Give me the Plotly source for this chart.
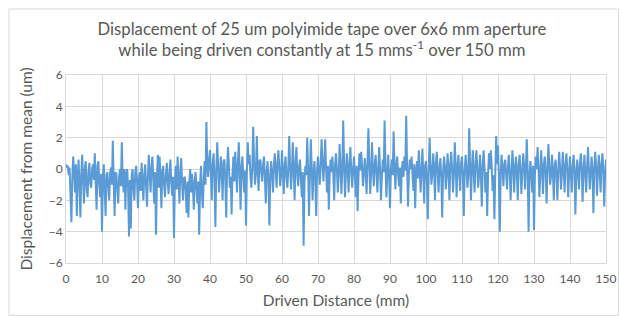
import plotly.graph_objects as go

displacement = [
    0.3, 0.1, 0.2, -0.4,   0.1, -1.2, -3.4, -0.6,   0.8, -0.2, -1.5, 0.3,
    -3.0, -0.5, 0.6, -1.1,  -3.1, -0.3, 0.9, -0.8,  -2.2, 0.1, 0.5, -1.3,
    -1.8, -0.2, 0.4, -0.9,  -1.2, 0.0, 0.3, -0.7,   1.0, -0.9, -2.6, 0.2,
    0.5, -1.0, -1.8, -0.3,  -4.0, -0.6, 0.3, -1.4,  -3.0, -0.4, -0.2, -1.2,
    -2.0, -0.3, 0.1, -1.0,  1.8, -0.8, -3.0, -0.2,  -0.3, -1.3, -2.2, -0.5,
    0.0, -1.1, 1.7, -0.6,   -1.5, 0.0, -2.6, -0.4,  0.0, -1.2, -4.3, -0.7,
    -3.8, -0.5, 0.0, -1.3,  -2.0, -0.2, 0.2, -0.9,  -2.5, -0.6, -0.2, -1.4,
    0.4, -0.9, -2.0, -0.3,  0.3, -1.1, -2.4, -0.5,  0.9, -0.4, -1.5, 0.1,
    0.8, -0.7, -2.2, -0.2,  -4.2, -0.8, 0.9, -1.2,  0.8, -0.6, -2.5, -0.1,
    0.2, -1.0, -1.8, -0.4,  0.4, -0.8, -1.6, -0.2,  0.6, -0.9, -1.7, -0.5,
    -4.4, -0.7, 0.2, -1.3,  0.8, -0.5, -2.2, -0.3,  0.7, -0.9, -2.0, -0.6,
    -0.5, -1.4, -2.8, -0.8, -3.1, -0.9, 0.0, -1.5,  -0.3, -1.2, -2.6, -0.7,
    -0.2, -1.3, -2.2, -0.8, -4.2, -1.0, 0.2, -1.6,  -2.5, -0.6, 0.5, -1.0,
    3.0, 0.2, -0.5, 0.6,    1.2, -0.3, -2.0, 0.4,   1.0, -0.6, -3.7, -0.1,
    1.7, 0.3, -1.5, -0.4,   0.8, -0.2, -2.0, 0.5,   0.6, -0.7, -3.1, 0.1,
    1.4, 0.2, -1.2, -0.5,   -2.9, -0.3, 0.8, -0.8,  1.1, 0.0, -1.5, 0.4,
    1.7, -0.4, -2.6, 0.2,   0.8, -0.6, -1.5, -0.1,  -3.6, -0.2, 1.7, 0.3,
    0.9, -0.5, -1.2, 0.1,   2.7, 0.4, -1.0, -0.3,   2.1, 0.0, -1.4, 0.5,
    0.6, -0.2, -0.8, 0.3,   0.8, -0.6, -2.2, -0.1,  0.5, -0.9, -3.6, -0.3,
    0.5, -0.4, -1.5, 0.2,   1.0, -0.1, -1.2, 0.4,   1.2, 0.1, -1.1, -0.4,
    1.2, -0.3, -1.6, 0.2,   0.8, -0.5, -1.2, 0.0,   2.1, 0.3, -1.3, -0.2,
    1.7, 0.0, -2.0, 0.4,    1.4, -0.3, -1.1, 0.1,   0.6, -0.6, -1.8, -0.2,
    -4.9, -0.8, 0.2, -0.4,  2.0, 0.1, -3.0, -0.5,   1.9, 0.2, -2.0, -0.3,
    0.5, -0.6, -3.0, 0.0,   0.8, -0.2, -1.0, 0.4,   1.9, 0.3, -0.8, 0.5,
    1.9, -0.1, -1.5, 0.2,   -2.6, -0.4, 0.6, -0.2,  0.8, -0.3, -2.0, 0.3,
    1.0, 0.0, -1.5, -0.4,   1.6, 0.2, -1.6, -0.1,   3.1, 0.4, -1.8, -0.3,
    1.0, 0.1, -1.5, 0.3,    1.4, -0.2, -1.2, 0.0,   0.8, -0.4, -1.8, 0.2,
    -2.7, -0.5, 1.0, -0.1,  1.1, 0.2, -1.1, -0.3,   0.7, -0.2, -1.6, 0.4,
    2.6, 0.3, -1.6, -0.2,   1.7, 0.0, -1.1, 0.3,    0.9, -0.3, -1.5, 0.1,
    1.4, -0.1, -2.0, -0.4,  0.6, -0.2, 3.1, 0.2,    -1.8, -0.3, 0.9, -0.5,
    -2.5, 0.0, 0.6, -0.4,   2.4, 0.2, -1.3, 0.3,    0.8, -0.3, -1.1, 0.1,
    -2.2, -0.2, 0.5, -0.5,  0.8, -0.1, 3.4, 0.2,    -2.4, -0.3, 0.6, 0.0,
    0.8, -0.4, -1.4, 0.3,   -2.5, -0.2, 0.5, -0.6,  1.2, 0.1, -1.5, -0.2,
    1.3, -0.3, -2.2, 0.2,   0.5, -0.6, -3.2, -0.1,  2.0, 0.3, -1.0, -0.3,
    1.0, 0.0, -2.0, 0.4,    1.1, -0.2, -1.5, 0.1,   0.7, -0.5, -3.1, -0.2,
    0.8, 0.2, -1.3, -0.4,   1.0, -0.1, -2.0, 0.3,   1.1, 0.0, -1.5, -0.3,
    1.7, 0.2, -1.8, 0.1,    0.9, -0.3, -1.4, 0.4,   0.8, -0.4, -3.0, -0.1,
    0.9, 0.1, -1.2, -0.4,   2.6, 0.3, -2.0, 0.0,    1.2, -0.2, -1.5, 0.3,
    1.2, 0.0, -1.2, -0.3,   0.9, -0.4, -2.4, 0.2,   1.2, 0.1, -1.5, -0.2,
    -3.0, -0.3, 1.0, 0.0,   1.2, 0.2, -1.4, -0.4,   -3.2, -0.2, 2.1, 0.3,
    1.5, -0.5, -4.0, -0.3,  0.9, 0.0, -1.1, 0.3,    0.6, -0.3, -1.3, 0.1,
    0.9, -0.1, -2.0, -0.4,  1.2, 0.2, -1.5, 0.0,    0.8, -0.3, -2.0, 0.3,
    0.9, 0.0, -1.6, -0.2,   1.0, 0.2, -1.3, 0.1,    1.9, -0.2, -4.0, -0.5,
    0.5, -0.3, -1.5, 0.2,   -3.9, -0.4, 0.8, 0.0,   1.4, 0.1, -1.8, -0.3,
    1.2, -0.1, -1.6, 0.3,   0.8, -0.3, -2.2, 0.1,   1.6, 0.2, -1.0, -0.4,
    0.9, -0.2, -2.0, 0.2,   0.6, -0.4, -2.0, 0.0,   1.1, 0.1, -1.3, -0.3,
    1.1, -0.1, -1.5, 0.3,   1.0, 0.0, -1.8, -0.2,   0.8, -0.3, -1.5, 0.2,
    0.9, 0.0, -2.9, -0.4,   0.6, -0.2, -1.3, 0.3,   1.0, 0.1, -2.1, -0.1,
    0.9, -0.3, -1.5, 0.2,   1.4, 0.0, -1.3, -0.3,   0.8, -0.2, -2.8, 0.1,
    1.1, 0.2, -1.7, -0.2,   0.9, -0.1, -1.5, 0.3,   1.0, 0.0, -2.4, -0.3,
    0.6,
]
step_mm = 0.25
distance = [i * step_mm for i in range(len(displacement))]

x_ticks = list(range(0, 151, 10))
y_ticks = list(range(-6, 7, 2))

title_text = ("Displacement of 25 um polyimide tape over 6x6 mm aperture<br>"
              "while being driven constantly at 15 mms<sup>-1</sup> over 150 mm")

fig = go.Figure()
fig.add_trace(go.Scatter(
    x=distance, y=displacement, mode="lines",
    line=dict(color="#5B9BD5", width=2.0),
    showlegend=False,
))

FONT = "Lato, Carlito, Calibri, sans-serif"
grid = "#D9D9D9"
fig.update_layout(
    width=619, height=316,
    margin=dict(l=66, r=13, t=75, b=53, autoexpand=False),
    paper_bgcolor="white", plot_bgcolor="white",
    font=dict(family=FONT, color="#595959"),
    title=dict(text=title_text, x=0.52, xanchor="center",
               y=0.89, yanchor="top", automargin=False,
               font=dict(family=FONT, size=16.7, color="#595959")),
    xaxis=dict(range=[0, 150], tickvals=x_ticks, showgrid=True, gridcolor=grid,
               gridwidth=1, zeroline=False, showline=True, linecolor=grid,
               mirror=True, ticks="", automargin=False, ticklabelstandoff=5,
               tickfont=dict(size=12, color="#595959"),
               title=dict(text="Driven Distance (mm)", standoff=9,
                          font=dict(size=15.5, color="#595959"))),
    yaxis=dict(range=[-6, 6], tickvals=y_ticks, showgrid=True, gridcolor=grid,
               gridwidth=1, zeroline=False, showline=True, linecolor=grid,
               mirror=True, ticks="", automargin=False,
               tickfont=dict(size=12, color="#595959"),
               title=dict(text="Displacement from mean (um)", standoff=12,
                          font=dict(size=15.5, color="#595959"))),
)
# outer chart border
fig.add_shape(type="rect", xref="paper", yref="paper",
              x0=(9 - 66) / 540, x1=(618.5 - 66) / 540,
              y0=(263 - 315.5) / 188, y1=(263 - 9) / 188,
              line=dict(color="#D9D9D9", width=1), fillcolor="rgba(0,0,0,0)",
              layer="below")

fig.write_html("out.html", config={"displayModeBar": False},
               post_script="document.body.style.margin='0';"
                           "document.body.style.overflow='hidden';")
